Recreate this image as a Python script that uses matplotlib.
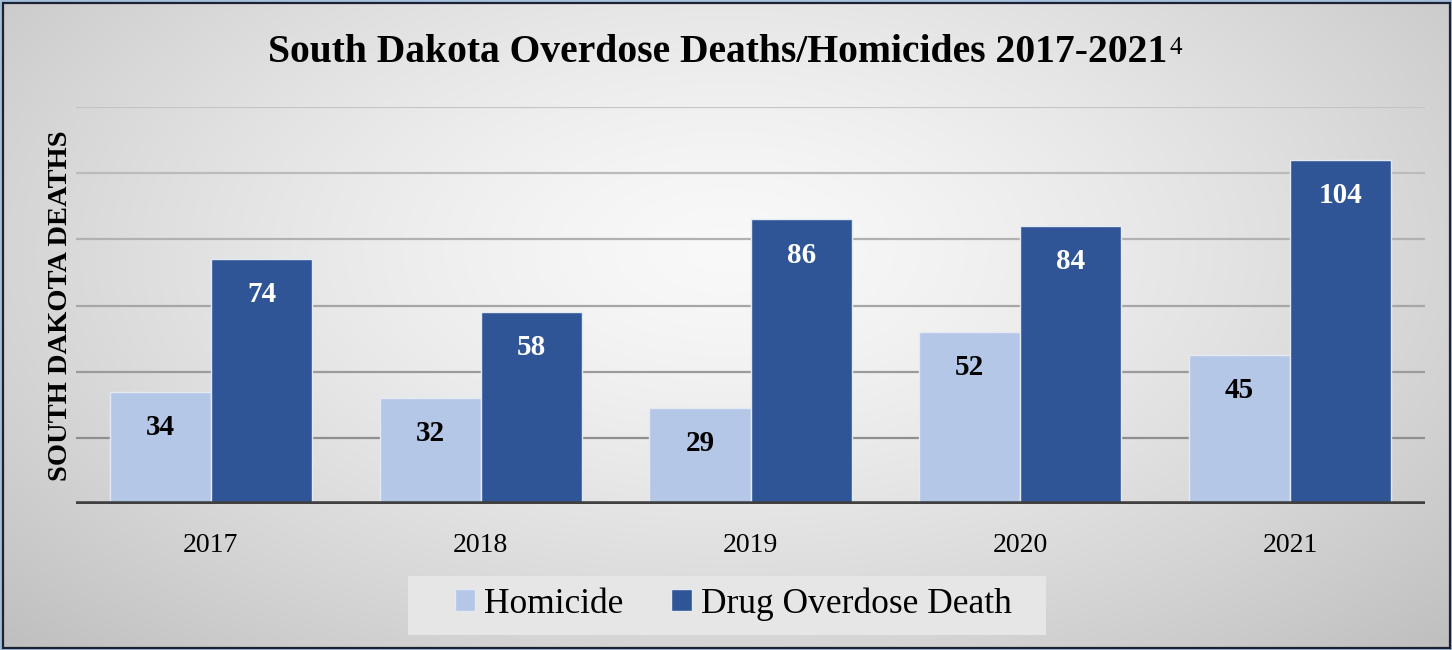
import numpy as np
import matplotlib
matplotlib.use("Agg")
import matplotlib.pyplot as plt
from matplotlib.patches import Rectangle, Patch

years = ["2017", "2018", "2019", "2020", "2021"]
homicide = [34, 32, 29, 52, 45]
overdose = [74, 58, 86, 84, 104]
series_names = ["Homicide", "Drug Overdose Death"]
title = "South Dakota Overdose Deaths/Homicides 2017-2021"
title_note = "4"
ylabel = "SOUTH DAKOTA DEATHS"

light_blue = "#b4c7e7"
dark_blue = "#2f5597"
serif = ["Liberation Serif", "DejaVu Serif"]

W, H, DPI = 1452, 650, 100
fig = plt.figure(figsize=(W / DPI, H / DPI), dpi=DPI)

# radial grey background
bg = fig.add_axes([0, 0, 1, 1], zorder=-10)
yy, xx = np.mgrid[0:H, 0:W]
r = np.sqrt(((xx - 726) / 726.0) ** 2 + ((yy - 250) / 400.0) ** 2) / np.sqrt(2)
v = np.clip(0.975 - 0.23 * r ** 1.4, 0, 1)
bg.imshow(np.dstack([v, v, v]), aspect="auto", extent=[0, 1, 0, 1], origin="upper")
bg.set_axis_off()

ax = fig.add_axes([76 / W, 1 - 504 / H, (1425 - 76) / W, (504 - 107) / H])
ax.set_facecolor("none")
x = np.arange(len(years))
bw = 0.375
edge = "#e4eaf4"
b1 = ax.bar(x - bw / 2, homicide, bw, color=light_blue, edgecolor=edge, linewidth=1.0, zorder=3)
b2 = ax.bar(x + bw / 2, overdose, bw, color=dark_blue, edgecolor=edge, linewidth=1.0, zorder=3)
ax.set_xlim(-0.5, len(years) - 0.5)
ax.set_ylim(0, 120)

grid_cols = ["#8f8f8f", "#9b9b9b", "#a6a6a6", "#b1b1b1", "#bbbbbb", "#c4c4c4"]
for val, c in zip(range(20, 121, 20), grid_cols):
    ax.axhline(val, color=c, lw=1.6, zorder=1)
ax.axhline(0, color="#404040", lw=4, zorder=4)

for s in ax.spines.values():
    s.set_visible(False)
ax.set_yticks([])
ax.set_xticks(x)
ax.set_xticklabels(years, fontsize=20, family=serif)
ax.tick_params(axis="x", length=0, pad=21)
ax.set_ylabel(ylabel, fontsize=20.5, fontweight="bold", family=serif, labelpad=2)

for bars, vals, col in ((b1, homicide, "black"), (b2, overdose, "white")):
    for b, val in zip(bars, vals):
        ax.annotate(str(val), xy=(b.get_x() + b.get_width() / 2, val),
                    xytext=(0, -23.5), textcoords="offset points",
                    ha="center", va="center_baseline", fontsize=21, fontweight="bold",
                    color=col, family=serif, zorder=5)

t = fig.text(718 / W, 1 - 53 / H, title, ha="center", va="center",
             fontsize=28.5, fontweight="bold", family=serif)
ax.annotate(title_note, xy=(1, 1), xycoords=t, xytext=(1, -2), textcoords="offset points",
            ha="left", va="top", fontsize=18, family=serif)

# legend panel
fig.patches.append(Rectangle((408 / W, 1 - 635 / H), (1046 - 408) / W, (635 - 576) / H,
                             transform=fig.transFigure, facecolor="#e6e6e6",
                             edgecolor="none", zorder=-5))
handles = [Patch(facecolor=light_blue, edgecolor=edge, linewidth=1.0),
           Patch(facecolor=dark_blue, edgecolor=edge, linewidth=1.0)]
fig.legend(handles, series_names, loc="center", bbox_to_anchor=(733 / W, 1 - 604 / H),
           ncol=2, frameon=False, prop={"family": serif, "size": 25.5},
           handlelength=0.58, handleheight=0.58, handletextpad=0.25, columnspacing=1.35)

# outer frame
fig.patches.append(Rectangle((0.5 / W, 0.5 / H), (W - 1) / W, (H - 1) / H,
                             transform=fig.transFigure, fill=False,
                             edgecolor="#9dbde0", lw=1.2, zorder=20))
fig.patches.append(Rectangle((2.5 / W, 2 / H), (W - 5) / W, (H - 4.5) / H,
                             transform=fig.transFigure, fill=False,
                             edgecolor="#1c2233", lw=1.6, zorder=21))

fig.savefig("out.png", dpi=DPI)
